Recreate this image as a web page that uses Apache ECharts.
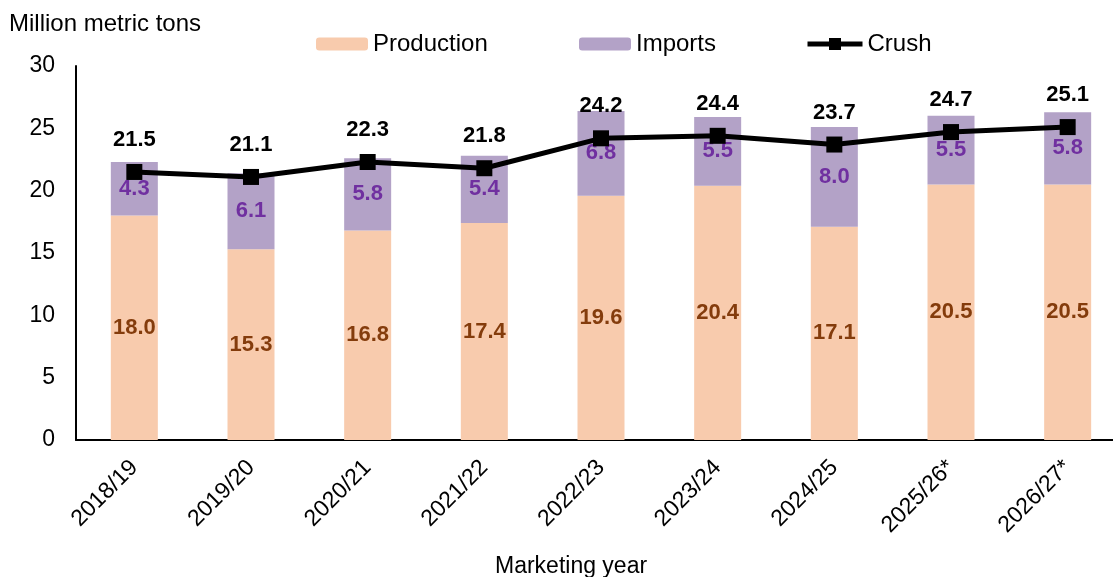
<!DOCTYPE html>
<html>
<head>
<meta charset="utf-8">
<script src="https://cdn.jsdelivr.net/npm/echarts@6/dist/echarts.min.js"></script>
<style>
  html, body { margin: 0; padding: 0; background: #fff; }
  #chart { width: 1113px; height: 577px; }
</style>
</head>
<body>
<div id="chart"></div>
<script>
const years = ["2018/19", "2019/20", "2020/21", "2021/22", "2022/23", "2023/24", "2024/25", "2025/26*", "2026/27*"];
const production = [18.0, 15.3, 16.8, 17.4, 19.6, 20.4, 17.1, 20.5, 20.5];
const imports = [4.3, 6.1, 5.8, 5.4, 6.8, 5.5, 8.0, 5.5, 5.8];
const crush = [21.5, 21.1, 22.3, 21.8, 24.2, 24.4, 23.7, 24.7, 25.1];

const font = "Liberation Sans, Arial, sans-serif";

var myChart = echarts.init(document.getElementById("chart"));
myChart.setOption({
  animation: false,
  textStyle: { fontFamily: font },
  title: [
    {
      text: "Million metric tons",
      left: 4,
      top: 7,
      textStyle: { fontSize: 24, fontWeight: "normal", color: "#000", fontFamily: font }
    },
    {
      text: "Marketing year",
      left: 490,
      top: 550,
      textStyle: { fontSize: 23, fontWeight: "normal", color: "#000", fontFamily: font }
    }
  ],
  legend: [
    {
      data: ["Production"],
      left: 311,
      top: 27,
      itemWidth: 52,
      itemHeight: 13,
      textStyle: { fontSize: 24, color: "#000", fontFamily: font }
    },
    {
      data: ["Imports"],
      left: 574,
      top: 27,
      itemWidth: 52,
      itemHeight: 13,
      textStyle: { fontSize: 24, color: "#000", fontFamily: font }
    },
    {
      data: ["Crush"],
      left: 800,
      top: 27,
      itemWidth: 55,
      itemHeight: 15,
      lineStyle: { width: 5, color: "#000" },
      textStyle: { fontSize: 24, color: "#000", fontFamily: font }
    }
  ],
  grid: {
    left: 76,
    width: 1050,
    top: 66,
    bottom: 137,
    outerBoundsMode: "none"
  },
  xAxis: {
    type: "category",
    data: years,
    axisLine: { lineStyle: { color: "#000", width: 2 } },
    axisTick: { show: false },
    axisLabel: {
      rotate: 45,
      margin: 24,
      fontSize: 23,
      color: "#000",
      fontFamily: font
    }
  },
  yAxis: {
    type: "value",
    min: 0,
    max: 30,
    interval: 5,
    splitLine: { show: false },
    axisLine: { show: true, lineStyle: { color: "#000", width: 2 } },
    axisTick: { show: false },
    axisLabel: {
      margin: 21,
      fontSize: 23,
      color: "#000",
      fontFamily: font
    }
  },
  series: [
    {
      name: "Production",
      type: "bar",
      stack: "supply",
      barWidth: 47,
      data: production,
      itemStyle: { color: "#F8CBAD" },
      label: {
        show: true,
        position: "inside",
        formatter: p => p.value.toFixed(1),
        fontSize: 22,
        fontWeight: "bold",
        color: "#843C0C",
        fontFamily: font
      }
    },
    {
      name: "Imports",
      type: "bar",
      stack: "supply",
      barWidth: 47,
      data: imports,
      itemStyle: { color: "#B3A2C7" },
      label: {
        show: true,
        position: "inside",
        formatter: p => p.value.toFixed(1),
        fontSize: 22,
        fontWeight: "bold",
        color: "#7030A0",
        fontFamily: font
      }
    },
    {
      name: "Crush",
      type: "line",
      data: crush,
      symbol: "rect",
      symbolSize: 16,
      itemStyle: { color: "#000" },
      lineStyle: { color: "#000", width: 5 },
      z: 5,
      label: {
        show: true,
        position: "top",
        distance: 13,
        formatter: p => p.value.toFixed(1),
        fontSize: 22,
        fontWeight: "bold",
        color: "#000",
        fontFamily: font
      }
    }
  ]
});

window.addEventListener("resize", () => {
  myChart.resize();
});
</script>
</body>
</html>
